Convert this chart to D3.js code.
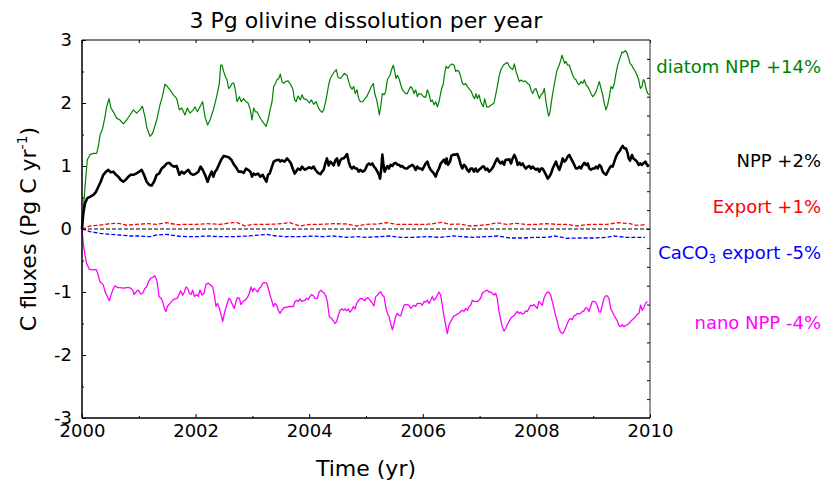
<!DOCTYPE html>
<html>
<head>
<meta charset="utf-8">
<script src="https://cdn.jsdelivr.net/npm/d3@7"></script>
<style>
  html, body { margin: 0; padding: 0; background: #fff; }
  svg { display: block; font-family: "DejaVu Sans", sans-serif; }
</style>
</head>
<body>
<svg id="chart" width="825" height="481"></svg>
<script>
// ---------------- DATA ----------------
const title = "3 Pg olivine dissolution per year";
const xTicks = [2000, 2002, 2004, 2006, 2008, 2010];
const xMinorTicks = [2001, 2003, 2005, 2007, 2009];
const yTicks = [-3, -2, -1, 0, 1, 2, 3];
const yMinorTicks = [-2.5, -1.5, -0.5, 0.5, 1.5, 2.5];
const y2Ticks = [-4.5,-4,-3.5,-3,-2.5,-2,-1.5,-1,-0.5,0,0.5,1,1.5,2,2.5,3,3.5,4,4.5];

const diatomNPP = [[2000,0],[2000.053,0.67],[2000.094,1.1],[2000.141,1.18],[2000.2,1.2],[2000.258,1.2],[2000.288,1.31],[2000.317,1.49],[2000.364,1.6],[2000.405,1.78],[2000.434,1.94],[2000.475,2.07],[2000.51,1.92],[2000.552,1.86],[2000.61,1.76],[2000.669,1.73],[2000.728,1.67],[2000.786,1.73],[2000.845,1.81],[2000.904,1.89],[2000.962,1.84],[2001.021,1.89],[2001.062,1.95],[2001.109,1.78],[2001.138,1.62],[2001.197,1.47],[2001.244,1.52],[2001.315,1.73],[2001.373,1.97],[2001.414,2.1],[2001.461,2.3],[2001.502,2.26],[2001.549,2.21],[2001.608,2.13],[2001.667,2.07],[2001.714,1.89],[2001.755,1.92],[2001.813,1.81],[2001.854,1.92],[2001.901,1.84],[2001.96,1.89],[2001.989,1.94],[2002.031,1.86],[2002.077,1.94],[2002.124,2.02],[2002.166,1.78],[2002.212,1.65],[2002.254,1.73],[2002.312,1.89],[2002.371,2.1],[2002.418,2.31],[2002.441,2.6],[2002.465,2.6],[2002.494,2.5],[2002.524,2.42],[2002.553,2.37],[2002.582,2.23],[2002.612,2.26],[2002.641,2.31],[2002.67,2.32],[2002.7,2.21],[2002.729,2.02],[2002.77,2.1],[2002.805,2.02],[2002.846,2.07],[2002.888,2.02],[2002.923,2.0],[2002.964,1.89],[2002.993,1.73],[2003.022,1.92],[2003.052,1.86],[2003.081,1.86],[2003.11,1.81],[2003.157,1.73],[2003.199,1.68],[2003.24,1.63],[2003.275,1.73],[2003.304,1.86],[2003.345,2.02],[2003.375,2.26],[2003.404,2.31],[2003.433,2.37],[2003.463,2.39],[2003.492,2.46],[2003.521,2.34],[2003.551,2.31],[2003.58,2.34],[2003.627,2.35],[2003.668,2.3],[2003.709,2.23],[2003.744,2.05],[2003.768,2.02],[2003.803,2.11],[2003.844,2.05],[2003.873,2.13],[2003.903,2.07],[2003.961,2.05],[2004.003,2.0],[2004.038,2.05],[2004.079,1.98],[2004.12,2.02],[2004.155,1.94],[2004.184,1.89],[2004.226,1.85],[2004.255,1.89],[2004.296,2.05],[2004.343,2.29],[2004.372,2.39],[2004.402,2.44],[2004.448,2.5],[2004.478,2.53],[2004.507,2.41],[2004.548,2.39],[2004.578,2.42],[2004.619,2.47],[2004.666,2.44],[2004.695,2.34],[2004.724,2.26],[2004.754,2.22],[2004.783,2.26],[2004.812,2.15],[2004.842,2.21],[2004.871,2.07],[2004.9,2.02],[2004.941,2.02],[2004.977,2.06],[2005.012,2.1],[2005.053,2.18],[2005.094,2.26],[2005.129,2.31],[2005.159,2.13],[2005.188,2.05],[2005.211,1.94],[2005.235,1.81],[2005.258,1.94],[2005.288,2.15],[2005.317,2.13],[2005.346,2.18],[2005.376,2.37],[2005.423,2.44],[2005.446,2.52],[2005.481,2.6],[2005.505,2.5],[2005.528,2.39],[2005.552,2.44],[2005.581,2.39],[2005.611,2.29],[2005.64,2.21],[2005.669,2.18],[2005.699,2.15],[2005.728,2.15],[2005.757,2.21],[2005.787,2.26],[2005.816,2.23],[2005.845,2.15],[2005.875,2.21],[2005.904,2.1],[2005.933,2.15],[2005.974,2.14],[2006.01,2.1],[2006.051,2.09],[2006.08,2.21],[2006.109,2.15],[2006.139,2.02],[2006.168,2.05],[2006.197,1.97],[2006.227,2.02],[2006.256,1.94],[2006.285,2.02],[2006.326,2.21],[2006.362,2.31],[2006.385,2.47],[2006.409,2.58],[2006.444,2.55],[2006.479,2.6],[2006.52,2.62],[2006.55,2.6],[2006.579,2.5],[2006.608,2.52],[2006.638,2.5],[2006.667,2.42],[2006.696,2.31],[2006.726,2.29],[2006.755,2.31],[2006.784,2.26],[2006.831,2.21],[2006.855,2.18],[2006.89,2.1],[2006.913,2.07],[2006.937,2.15],[2006.96,2.07],[2006.99,2.13],[2007.019,2.02],[2007.048,1.97],[2007.066,1.94],[2007.089,2.07],[2007.125,1.94],[2007.166,1.94],[2007.207,1.97],[2007.254,2.0],[2007.283,2.13],[2007.312,2.26],[2007.342,2.42],[2007.371,2.52],[2007.418,2.6],[2007.459,2.63],[2007.494,2.64],[2007.524,2.58],[2007.553,2.55],[2007.582,2.53],[2007.612,2.62],[2007.641,2.5],[2007.67,2.42],[2007.7,2.34],[2007.729,2.365],[2007.77,2.34],[2007.805,2.35],[2007.846,2.31],[2007.876,2.29],[2007.905,2.21],[2007.934,2.15],[2007.964,2.21],[2007.993,2.23],[2008.022,2.15],[2008.052,2.07],[2008.081,2.13],[2008.11,2.15],[2008.14,2.23],[2008.169,2.02],[2008.199,1.86],[2008.216,1.79],[2008.24,1.86],[2008.269,2.05],[2008.298,2.21],[2008.334,2.39],[2008.363,2.52],[2008.392,2.58],[2008.422,2.66],[2008.451,2.76],[2008.474,2.69],[2008.498,2.63],[2008.521,2.66],[2008.551,2.6],[2008.58,2.6],[2008.609,2.52],[2008.639,2.44],[2008.668,2.39],[2008.697,2.37],[2008.727,2.31],[2008.756,2.29],[2008.785,2.34],[2008.815,2.31],[2008.844,2.37],[2008.873,2.29],[2008.903,2.26],[2008.932,2.21],[2008.961,2.15],[2008.991,2.1],[2009.02,2.13],[2009.05,2.18],[2009.079,2.26],[2009.108,2.34],[2009.138,2.23],[2009.167,2.13],[2009.196,1.99],[2009.226,1.89],[2009.255,1.97],[2009.284,2.1],[2009.314,2.26],[2009.343,2.23],[2009.372,2.31],[2009.402,2.47],[2009.431,2.6],[2009.46,2.68],[2009.49,2.76],[2009.507,2.81],[2009.531,2.8],[2009.566,2.83],[2009.589,2.81],[2009.625,2.71],[2009.648,2.63],[2009.677,2.6],[2009.707,2.55],[2009.742,2.5],[2009.771,2.44],[2009.801,2.37],[2009.83,2.23],[2009.859,2.26],[2009.883,2.37],[2009.906,2.34],[2009.93,2.23],[2009.959,2.15],[2009.988,2.13]];

const totalNPP = [[2000,0],[2000.023,0.25],[2000.053,0.41],[2000.094,0.49],[2000.141,0.51],[2000.2,0.54],[2000.246,0.59],[2000.288,0.67],[2000.329,0.75],[2000.376,0.86],[2000.423,0.91],[2000.464,0.94],[2000.505,0.9],[2000.552,0.91],[2000.599,0.86],[2000.64,0.83],[2000.681,0.78],[2000.728,0.75],[2000.769,0.78],[2000.816,0.83],[2000.857,0.86],[2000.904,0.86],[2000.951,0.88],[2001.009,0.91],[2001.05,0.94],[2001.092,0.86],[2001.138,0.75],[2001.185,0.7],[2001.227,0.69],[2001.268,0.75],[2001.315,0.86],[2001.356,0.88],[2001.403,0.96],[2001.444,0.99],[2001.491,1.04],[2001.538,1.05],[2001.579,1.01],[2001.62,0.99],[2001.667,1.0],[2001.714,0.86],[2001.755,0.91],[2001.796,0.88],[2001.831,0.91],[2001.872,0.94],[2001.913,0.88],[2001.96,0.86],[2002.007,0.88],[2002.048,0.91],[2002.089,0.99],[2002.124,0.94],[2002.166,0.86],[2002.212,0.75],[2002.254,0.86],[2002.283,0.91],[2002.312,0.83],[2002.342,0.91],[2002.371,0.94],[2002.4,1.0],[2002.441,1.08],[2002.465,1.12],[2002.494,1.16],[2002.535,1.15],[2002.582,1.14],[2002.629,1.1],[2002.67,1.03],[2002.711,0.98],[2002.758,0.91],[2002.805,0.91],[2002.846,0.89],[2002.888,0.96],[2002.923,0.94],[2002.964,0.91],[2002.993,0.83],[2003.022,0.88],[2003.052,0.86],[2003.099,0.88],[2003.14,0.83],[2003.181,0.86],[2003.216,0.8],[2003.246,0.75],[2003.275,0.86],[2003.304,0.88],[2003.345,0.99],[2003.375,1.07],[2003.416,1.09],[2003.463,1.1],[2003.492,1.07],[2003.521,1.09],[2003.568,1.07],[2003.609,1.12],[2003.639,1.09],[2003.68,1.04],[2003.709,0.96],[2003.744,0.88],[2003.768,0.91],[2003.803,0.96],[2003.844,0.94],[2003.873,0.99],[2003.92,0.94],[2003.961,0.96],[2004.003,0.98],[2004.038,0.96],[2004.079,0.99],[2004.108,0.94],[2004.155,0.89],[2004.196,0.87],[2004.226,0.91],[2004.255,0.94],[2004.284,1.04],[2004.313,1.12],[2004.343,1.01],[2004.372,1.07],[2004.402,1.04],[2004.431,1.01],[2004.46,1.09],[2004.49,1.12],[2004.519,1.01],[2004.548,1.09],[2004.578,1.12],[2004.607,1.12],[2004.636,1.15],[2004.666,1.19],[2004.695,1.07],[2004.724,0.99],[2004.754,0.96],[2004.783,0.99],[2004.812,0.96],[2004.842,0.96],[2004.871,0.91],[2004.9,0.94],[2004.941,0.91],[2004.977,0.93],[2004.994,0.96],[2005.024,1.02],[2005.053,1.04],[2005.082,1.02],[2005.112,1.04],[2005.141,0.99],[2005.17,0.96],[2005.2,0.91],[2005.229,0.86],[2005.247,0.8],[2005.27,0.96],[2005.288,1.18],[2005.305,1.04],[2005.329,0.91],[2005.352,0.96],[2005.376,1.0],[2005.405,0.96],[2005.434,1.02],[2005.464,1.0],[2005.493,1.04],[2005.522,1.05],[2005.552,1.02],[2005.581,1.02],[2005.611,0.99],[2005.64,1.0],[2005.669,0.97],[2005.699,0.96],[2005.728,0.96],[2005.757,0.99],[2005.787,1.0],[2005.816,1.02],[2005.845,0.99],[2005.875,0.94],[2005.904,0.99],[2005.933,0.96],[2005.963,0.96],[2005.992,0.94],[2006.021,0.99],[2006.051,1.04],[2006.08,1.07],[2006.109,0.99],[2006.139,0.94],[2006.168,0.91],[2006.197,0.88],[2006.227,0.83],[2006.256,0.91],[2006.285,0.96],[2006.315,1.04],[2006.344,1.07],[2006.374,1.1],[2006.403,1.04],[2006.42,1.12],[2006.444,1.02],[2006.479,1.07],[2006.502,1.16],[2006.538,1.18],[2006.579,1.18],[2006.608,1.19],[2006.638,1.12],[2006.667,1.02],[2006.696,0.96],[2006.726,1.02],[2006.755,0.99],[2006.784,0.94],[2006.813,0.91],[2006.843,0.96],[2006.872,0.96],[2006.901,0.91],[2006.93,0.96],[2006.96,0.91],[2006.989,0.94],[2007.018,0.96],[2007.048,0.99],[2007.077,0.99],[2007.106,0.94],[2007.136,0.96],[2007.166,0.91],[2007.202,0.94],[2007.242,0.99],[2007.265,1.04],[2007.295,1.1],[2007.312,1.12],[2007.342,1.07],[2007.371,1.04],[2007.4,1.07],[2007.43,1.02],[2007.459,1.1],[2007.488,1.1],[2007.524,1.106],[2007.553,1.04],[2007.582,1.12],[2007.612,1.175],[2007.641,1.12],[2007.67,1.016],[2007.7,1.053],[2007.729,1.016],[2007.758,1.04],[2007.787,0.99],[2007.817,0.96],[2007.846,0.99],[2007.876,1.0],[2007.905,0.96],[2007.934,0.99],[2007.964,0.96],[2007.993,0.94],[2008.022,0.96],[2008.052,0.91],[2008.081,0.96],[2008.11,0.96],[2008.14,0.91],[2008.169,0.86],[2008.199,0.8],[2008.228,0.83],[2008.257,0.88],[2008.287,0.96],[2008.316,1.016],[2008.345,1.07],[2008.375,0.99],[2008.404,0.94],[2008.433,1.016],[2008.463,1.12],[2008.492,1.07],[2008.521,1.095],[2008.551,1.15],[2008.58,1.175],[2008.609,1.12],[2008.639,1.07],[2008.668,1.016],[2008.697,0.96],[2008.727,0.96],[2008.756,0.99],[2008.785,0.96],[2008.815,1.016],[2008.844,1.05],[2008.873,1.016],[2008.903,1.04],[2008.932,0.96],[2008.961,0.94],[2008.991,0.96],[2009.02,0.96],[2009.05,0.99],[2009.079,0.96],[2009.108,1.016],[2009.138,0.99],[2009.167,0.91],[2009.196,0.88],[2009.226,0.86],[2009.255,0.91],[2009.284,0.96],[2009.314,1.0],[2009.343,0.99],[2009.372,1.07],[2009.402,1.15],[2009.431,1.2],[2009.46,1.23],[2009.49,1.28],[2009.519,1.32],[2009.548,1.28],[2009.577,1.28],[2009.607,1.2],[2009.625,1.12],[2009.648,1.085],[2009.683,1.175],[2009.707,1.12],[2009.742,1.095],[2009.771,1.07],[2009.801,1.016],[2009.83,1.04],[2009.859,1.016],[2009.883,1.04],[2009.918,1.07],[2009.959,1.0],[2009.988,1.016]];

const exportC = [[2000,0],[2000.141,0.05],[2000.317,0.06],[2000.493,0.085],[2000.64,0.09],[2000.786,0.06],[2000.962,0.074],[2001.138,0.085],[2001.315,0.074],[2001.491,0.1],[2001.667,0.069],[2001.843,0.074],[2002.019,0.074],[2002.195,0.085],[2002.43,0.074],[2002.606,0.095],[2002.723,0.106],[2002.87,0.048],[2003.016,0.074],[2003.251,0.074],[2003.427,0.079],[2003.662,0.1],[2003.838,0.048],[2004.014,0.074],[2004.19,0.074],[2004.425,0.085],[2004.66,0.079],[2004.836,0.048],[2005.012,0.074],[2005.188,0.079],[2005.364,0.1],[2005.54,0.074],[2005.833,0.074],[2006.068,0.074],[2006.185,0.085],[2006.332,0.106],[2006.479,0.074],[2006.655,0.079],[2006.831,0.048],[2007.007,0.058],[2007.183,0.074],[2007.301,0.1],[2007.477,0.074],[2007.653,0.09],[2007.829,0.069],[2008.005,0.074],[2008.181,0.085],[2008.357,0.074],[2008.533,0.074],[2008.709,0.048],[2008.885,0.069],[2009.061,0.074],[2009.237,0.074],[2009.443,0.1],[2009.648,0.085],[2009.765,0.058],[2009.912,0.069]];

const caco3Export = [[2000,0],[2000.141,-0.042],[2000.317,-0.069],[2000.493,-0.085],[2000.669,-0.095],[2000.845,-0.111],[2001.021,-0.111],[2001.197,-0.122],[2001.315,-0.095],[2001.491,-0.085],[2001.667,-0.111],[2001.843,-0.122],[2002.019,-0.122],[2002.195,-0.111],[2002.43,-0.122],[2002.664,-0.122],[2002.899,-0.111],[2003.134,-0.095],[2003.251,-0.085],[2003.427,-0.111],[2003.603,-0.122],[2003.838,-0.122],[2004.073,-0.111],[2004.249,-0.122],[2004.425,-0.111],[2004.66,-0.132],[2004.836,-0.122],[2005.012,-0.132],[2005.247,-0.122],[2005.423,-0.111],[2005.599,-0.132],[2005.833,-0.132],[2006.068,-0.122],[2006.303,-0.132],[2006.538,-0.111],[2006.714,-0.122],[2006.89,-0.132],[2007.125,-0.122],[2007.331,-0.111],[2007.536,-0.143],[2007.771,-0.143],[2008.005,-0.132],[2008.181,-0.132],[2008.328,-0.111],[2008.533,-0.148],[2008.768,-0.143],[2009.002,-0.143],[2009.237,-0.132],[2009.354,-0.111],[2009.589,-0.132],[2009.912,-0.132]];

const nanoNPP = [[2000,0],[2000.023,-0.23],[2000.053,-0.42],[2000.082,-0.55],[2000.129,-0.64],[2000.188,-0.65],[2000.246,-0.64],[2000.276,-0.7],[2000.317,-0.84],[2000.346,-0.86],[2000.376,-0.89],[2000.405,-0.99],[2000.446,-1.07],[2000.481,-1.14],[2000.511,-1.05],[2000.54,-0.97],[2000.581,-0.9],[2000.622,-0.93],[2000.669,-0.93],[2000.728,-0.94],[2000.786,-0.93],[2000.833,-0.93],[2000.857,-0.94],[2000.892,-0.97],[2000.915,-1.04],[2000.951,-1.0],[2000.992,-0.97],[2001.033,-1.03],[2001.068,-1.02],[2001.109,-0.94],[2001.138,-0.92],[2001.168,-0.84],[2001.209,-0.78],[2001.244,-0.77],[2001.279,-0.74],[2001.315,-0.81],[2001.338,-0.94],[2001.356,-1.07],[2001.391,-1.1],[2001.42,-1.15],[2001.45,-1.26],[2001.479,-1.31],[2001.502,-1.23],[2001.549,-1.18],[2001.596,-1.13],[2001.637,-1.11],[2001.678,-1.1],[2001.708,-1.04],[2001.737,-0.98],[2001.772,-1.05],[2001.802,-1.0],[2001.831,-0.92],[2001.86,-0.94],[2001.89,-1.02],[2001.919,-1.04],[2001.948,-0.97],[2001.978,-1.07],[2002.019,-1.04],[2002.048,-1.07],[2002.077,-0.97],[2002.113,-1.05],[2002.148,-1.02],[2002.183,-0.88],[2002.224,-0.86],[2002.265,-0.89],[2002.3,-0.92],[2002.33,-1.05],[2002.359,-1.23],[2002.388,-1.18],[2002.418,-1.26],[2002.453,-1.37],[2002.477,-1.47],[2002.506,-1.34],[2002.547,-1.21],[2002.588,-1.1],[2002.617,-1.13],[2002.647,-1.2],[2002.682,-1.26],[2002.711,-1.15],[2002.735,-1.09],[2002.77,-1.1],[2002.799,-1.2],[2002.829,-1.15],[2002.87,-1.13],[2002.911,-1.09],[2002.946,-1.02],[2002.975,-0.92],[2003.005,-0.995],[2003.028,-0.94],[2003.063,-0.97],[2003.093,-1.0],[2003.122,-0.94],[2003.151,-0.92],[2003.181,-0.86],[2003.21,-0.85],[2003.251,-0.86],[2003.28,-0.94],[2003.31,-1.05],[2003.339,-1.13],[2003.369,-1.23],[2003.398,-1.18],[2003.427,-1.21],[2003.457,-1.29],[2003.486,-1.34],[2003.515,-1.29],[2003.556,-1.25],[2003.603,-1.24],[2003.662,-1.23],[2003.721,-1.23],[2003.75,-1.15],[2003.779,-1.13],[2003.809,-1.15],[2003.838,-1.11],[2003.867,-1.15],[2003.897,-1.14],[2003.926,-1.13],[2003.955,-1.1],[2003.985,-1.12],[2004.014,-1.07],[2004.043,-1.04],[2004.073,-1.06],[2004.102,-1.1],[2004.143,-1.1],[2004.178,-0.995],[2004.208,-0.97],[2004.237,-1.0],[2004.266,-1.02],[2004.296,-1.07],[2004.319,-1.15],[2004.354,-1.39],[2004.396,-1.42],[2004.425,-1.46],[2004.454,-1.5],[2004.484,-1.47],[2004.513,-1.37],[2004.542,-1.29],[2004.572,-1.27],[2004.601,-1.29],[2004.63,-1.27],[2004.66,-1.3],[2004.689,-1.27],[2004.718,-1.32],[2004.748,-1.29],[2004.777,-1.23],[2004.806,-1.27],[2004.836,-1.18],[2004.871,-1.13],[2004.906,-1.1],[2004.941,-1.11],[2004.982,-1.14],[2004.994,-1.11],[2005.035,-1.09],[2005.071,-1.13],[2005.112,-1.18],[2005.141,-1.22],[2005.17,-1.07],[2005.2,-1.05],[2005.229,-1.02],[2005.258,-0.995],[2005.288,-1.05],[2005.317,-1.07],[2005.346,-1.23],[2005.376,-1.34],[2005.405,-1.39],[2005.434,-1.5],[2005.464,-1.6],[2005.493,-1.5],[2005.522,-1.39],[2005.552,-1.34],[2005.581,-1.37],[2005.611,-1.38],[2005.64,-1.29],[2005.669,-1.21],[2005.699,-1.2],[2005.728,-1.2],[2005.757,-1.21],[2005.787,-1.26],[2005.816,-1.23],[2005.845,-1.21],[2005.875,-1.23],[2005.904,-1.18],[2005.933,-1.18],[2005.963,-1.18],[2005.992,-1.21],[2006.021,-1.15],[2006.051,-1.16],[2006.08,-1.13],[2006.109,-1.18],[2006.139,-1.13],[2006.168,-1.07],[2006.197,-1.13],[2006.227,-1.1],[2006.256,-1.05],[2006.285,-1.0],[2006.315,-1.05],[2006.344,-1.21],[2006.373,-1.39],[2006.403,-1.52],[2006.432,-1.66],[2006.461,-1.52],[2006.491,-1.47],[2006.52,-1.42],[2006.549,-1.38],[2006.579,-1.37],[2006.608,-1.35],[2006.637,-1.34],[2006.667,-1.31],[2006.696,-1.29],[2006.725,-1.31],[2006.755,-1.26],[2006.784,-1.29],[2006.813,-1.23],[2006.843,-1.21],[2006.872,-1.13],[2006.901,-1.15],[2006.93,-1.15],[2006.96,-1.15],[2006.989,-1.13],[2007.018,-1.1],[2007.048,-1.02],[2007.077,-1.0],[2007.106,-0.98],[2007.136,-0.97],[2007.165,-1.0],[2007.194,-1.0],[2007.224,-1.02],[2007.253,-1.05],[2007.282,-1.02],[2007.312,-1.1],[2007.341,-1.31],[2007.371,-1.44],[2007.4,-1.55],[2007.429,-1.62],[2007.458,-1.58],[2007.488,-1.52],[2007.517,-1.47],[2007.546,-1.42],[2007.576,-1.39],[2007.605,-1.38],[2007.634,-1.34],[2007.664,-1.31],[2007.693,-1.34],[2007.722,-1.32],[2007.752,-1.35],[2007.781,-1.34],[2007.81,-1.3],[2007.84,-1.31],[2007.869,-1.26],[2007.898,-1.21],[2007.928,-1.22],[2007.957,-1.2],[2007.986,-1.23],[2008.016,-1.26],[2008.045,-1.15],[2008.074,-1.18],[2008.104,-1.21],[2008.133,-1.1],[2008.162,-1.04],[2008.192,-1.0],[2008.221,-1.005],[2008.25,-1.05],[2008.28,-1.15],[2008.309,-1.26],[2008.338,-1.37],[2008.368,-1.47],[2008.397,-1.58],[2008.426,-1.64],[2008.456,-1.66],[2008.485,-1.63],[2008.514,-1.57],[2008.544,-1.5],[2008.573,-1.44],[2008.602,-1.42],[2008.632,-1.44],[2008.661,-1.38],[2008.69,-1.37],[2008.72,-1.34],[2008.749,-1.35],[2008.778,-1.34],[2008.808,-1.31],[2008.837,-1.3],[2008.866,-1.25],[2008.896,-1.26],[2008.925,-1.31],[2008.954,-1.23],[2008.984,-1.15],[2009.013,-1.15],[2009.042,-1.16],[2009.072,-1.21],[2009.101,-1.31],[2009.13,-1.32],[2009.16,-1.21],[2009.189,-1.1],[2009.218,-1.06],[2009.248,-1.06],[2009.277,-1.1],[2009.306,-1.26],[2009.336,-1.31],[2009.365,-1.37],[2009.394,-1.41],[2009.424,-1.46],[2009.453,-1.53],[2009.482,-1.55],[2009.512,-1.52],[2009.541,-1.55],[2009.57,-1.53],[2009.6,-1.52],[2009.629,-1.5],[2009.658,-1.47],[2009.688,-1.44],[2009.717,-1.42],[2009.746,-1.39],[2009.776,-1.35],[2009.805,-1.34],[2009.834,-1.21],[2009.864,-1.29],[2009.893,-1.25],[2009.922,-1.18],[2009.953,-1.15]];

const zeroLine = [[2000,0],[2010,0]];

const seriesLabels = [
  {text: "diatom NPP +14%", color: "#008200", y: 2.47},
  {text: "NPP +2%", color: "#000000", y: 0.98},
  {text: "Export +1%", color: "#ff0000", y: 0.26},
  {text: "CaCO", sub: "3", rest: " export -5%", color: "#0000ff", y: -0.48},
  {text: "nano NPP -4%", color: "#ff00ff", y: -1.58}
];

// ---------------- CHART ----------------
const svg = d3.select("#chart");
const plotLeft = 82, plotRight = 650, plotTop = 40, plotBottom = 418;

const x = d3.scaleLinear().domain([2000, 2010]).range([plotLeft, plotRight]);
const y = d3.scaleLinear().domain([-3, 3]).range([plotBottom, plotTop]);
const y2 = d3.scaleLinear().domain([-5, 5]).range([plotBottom, plotTop]);

const line = d3.line().x(d => x(d[0])).y(d => y(d[1]));
const plainNum = d => String(d);   // hyphen-minus, as in the reference

// series
const g = svg.append("g");
g.append("path").datum(zeroLine).attr("d", line)
  .attr("fill", "none").attr("stroke", "#000").attr("stroke-width", 1)
  .attr("stroke-dasharray", "4,2");
g.append("path").datum(exportC).attr("d", line)
  .attr("fill", "none").attr("stroke", "#ff0000").attr("stroke-width", 1.3)
  .attr("stroke-dasharray", "4,2");
g.append("path").datum(caco3Export).attr("d", line)
  .attr("fill", "none").attr("stroke", "#0000ff").attr("stroke-width", 1.3)
  .attr("stroke-dasharray", "4,2");
g.append("path").datum(diatomNPP).attr("d", line)
  .attr("fill", "none").attr("stroke", "#008200").attr("stroke-width", 1.2)
  .attr("stroke-linejoin", "round");
g.append("path").datum(totalNPP).attr("d", line)
  .attr("fill", "none").attr("stroke", "#000").attr("stroke-width", 2.6)
  .attr("stroke-linejoin", "round");
g.append("path").datum(nanoNPP).attr("d", line)
  .attr("fill", "none").attr("stroke", "#ff00ff").attr("stroke-width", 1.3)
  .attr("stroke-linejoin", "round");

// axes
function styleAxis(sel) {
  sel.select(".domain").remove();
  sel.selectAll(".tick line").attr("stroke", "#000").attr("stroke-width", 1);
  sel.selectAll(".tick text").attr("font-size", "18px")
    .attr("font-family", "DejaVu Sans, sans-serif").attr("fill", "#000");
}
svg.append("g").attr("transform", `translate(0,${plotBottom})`)
  .call(d3.axisBottom(x).tickValues(xTicks).tickFormat(plainNum).tickSize(-4).tickPadding(6))
  .call(styleAxis);
svg.append("g").attr("transform", `translate(0,${plotBottom})`)
  .call(d3.axisBottom(x).tickValues(xMinorTicks).tickFormat("").tickSize(-2))
  .call(styleAxis);
svg.append("g").attr("transform", `translate(0,${plotTop})`)
  .call(d3.axisTop(x).tickValues(xTicks.concat(xMinorTicks)).tickFormat("").tickSize(-3))
  .call(styleAxis);
svg.append("g").attr("transform", `translate(${plotLeft},0)`)
  .call(d3.axisLeft(y).tickValues(yTicks).tickFormat(plainNum).tickSize(-4).tickPadding(10))
  .call(styleAxis);
svg.append("g").attr("transform", `translate(${plotLeft},0)`)
  .call(d3.axisLeft(y).tickValues(yMinorTicks).tickFormat("").tickSize(-2))
  .call(styleAxis);
svg.append("g").attr("transform", `translate(${plotRight},0)`)
  .call(d3.axisRight(y2).tickValues(y2Ticks).tickFormat("").tickSize(-3))
  .call(styleAxis);

// frame
svg.append("line").attr("x1", plotLeft).attr("x2", plotRight).attr("y1", plotTop).attr("y2", plotTop)
  .attr("stroke", "#000").attr("stroke-width", 1);
svg.append("line").attr("x1", plotRight).attr("x2", plotRight).attr("y1", plotTop).attr("y2", plotBottom)
  .attr("stroke", "#333").attr("stroke-width", 1);
svg.append("line").attr("x1", plotLeft).attr("x2", plotRight).attr("y1", plotBottom).attr("y2", plotBottom)
  .attr("stroke", "#000").attr("stroke-width", 1.5);
svg.append("line").attr("x1", plotLeft).attr("x2", plotLeft).attr("y1", plotTop).attr("y2", plotBottom)
  .attr("stroke", "#000").attr("stroke-width", 1.5);

// title
svg.append("text").attr("x", (plotLeft + plotRight) / 2).attr("y", 27.5)
  .attr("text-anchor", "middle").attr("font-size", "22px").attr("fill", "#000")
  .text(title);

// x label
svg.append("text").attr("x", (plotLeft + plotRight) / 2).attr("y", 475.5)
  .attr("text-anchor", "middle").attr("font-size", "22px").attr("fill", "#000")
  .text("Time (yr)");

// y label
const yl = svg.append("text")
  .attr("transform", `translate(36,${(plotTop + plotBottom) / 2}) rotate(-90)`)
  .attr("text-anchor", "middle").attr("font-size", "22px").attr("fill", "#000");
yl.append("tspan").text("C fluxes (Pg C yr");
yl.append("tspan").attr("font-size", "14px").attr("dy", -9).text("-1");
yl.append("tspan").attr("dy", 9).text(")");

// series labels
seriesLabels.forEach(s => {
  const t = svg.append("text").attr("x", 821).attr("y", y(s.y))
    .attr("text-anchor", "end").attr("font-size", "18px").attr("fill", s.color);
  t.append("tspan").text(s.text);
  if (s.sub) {
    t.append("tspan").attr("font-size", "12px").attr("dy", 4).text(s.sub);
    t.append("tspan").attr("dy", -4).text(s.rest);
  }
});
</script>
</body>
</html>
